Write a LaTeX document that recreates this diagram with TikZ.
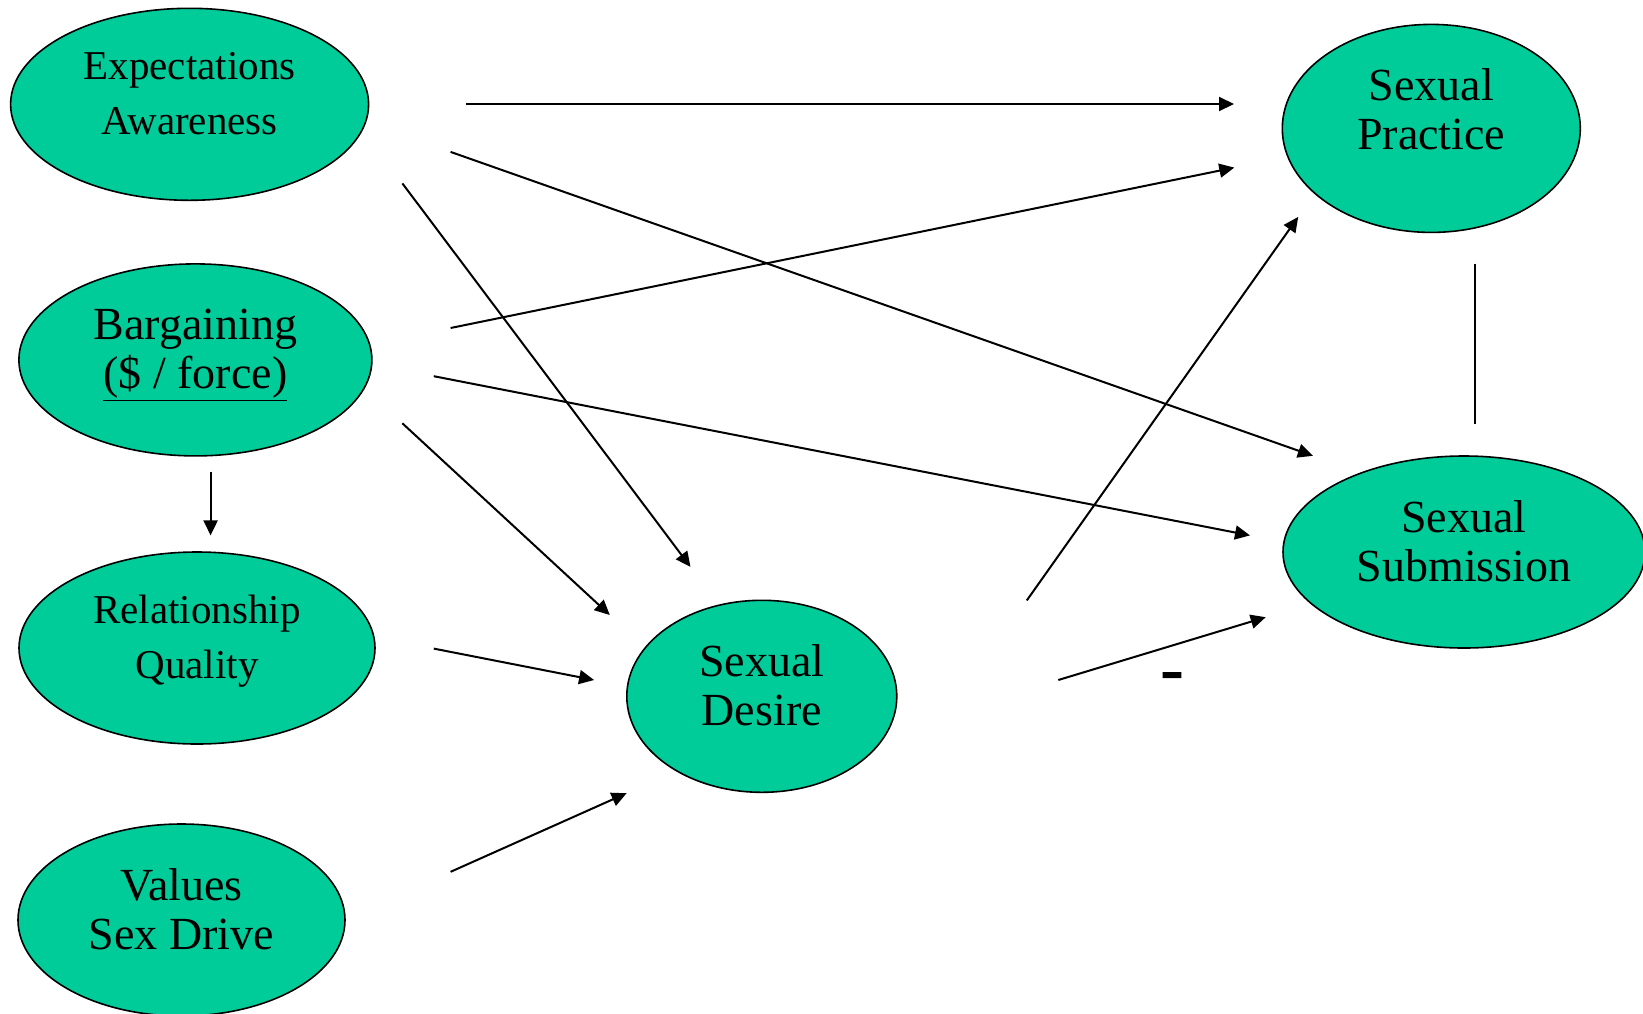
\documentclass[tikz,border=0pt]{standalone}
\usepackage{fontspec}
\setmainfont{Liberation Serif}
\usetikzlibrary{shapes.geometric,arrows.meta}
\definecolor{ovalgreen}{RGB}{0,204,153}
\tikzset{
  oval/.style={ellipse, draw=black, line width=1.6pt, fill=ovalgreen, inner sep=0pt},
  bigtxt/.style={align=center, font=\fontsize{46}{49}\selectfont},
  smalltxt/.style={align=center, font=\fontsize{41}{55}\selectfont},
  conn/.style={line width=2pt, -{Triangle[length=15pt,width=14pt]}},
  plain/.style={line width=2pt}
}
\begin{document}
\begin{tikzpicture}[x=1pt,y=-1pt]
\useasboundingbox (0,0) rectangle (1643,1013);
% ovals
\node[oval, minimum width=358pt, minimum height=192pt] (exp) at (189.6,104.3) {};
\node[oval, minimum width=353pt, minimum height=192pt] (barg) at (195.4,359.9) {};
\node[oval, minimum width=356pt, minimum height=192pt] (rel) at (197,648) {};
\node[oval, minimum width=327pt, minimum height=192pt] (val) at (181.5,920) {};
\node[oval, minimum width=270pt, minimum height=192pt] (des) at (761.8,696.3) {};
\node[oval, minimum width=298pt, minimum height=208pt] (prac) at (1431.3,128.4) {};
\node[oval, minimum width=362pt, minimum height=192pt] (sub) at (1464,552) {};
% texts
\node[smalltxt] (expt) at (189.6,94) {Expectations\\Awareness};
\node[bigtxt] (bargt) at (195.4,355) {Bargaining\\\underline{(\$ / force)}};
\node[smalltxt] (relt) at (197,641) {Relationship\\Quality};
\node[bigtxt] (valt) at (181.5,909.5) {Values\\Sex Drive};
\node[bigtxt] (dest) at (761.8,685) {Sexual\\Desire};
\node[bigtxt] (pract) at (1431.3,109.5) {Sexual\\Practice};
\node[bigtxt] (subt) at (1464,541) {Sexual\\Submission};
% connector end points
\coordinate (a1s) at (466,104);    \coordinate (a1e) at (1234,104);
\coordinate (a2s) at (450.6,151.9); \coordinate (a2e) at (1312.9,455.8);
\coordinate (a3s) at (402.4,183.4); \coordinate (a3e) at (690.5,566.9);
\coordinate (a4s) at (450.6,328);   \coordinate (a4e) at (1234.3,167.6);
\coordinate (a5s) at (433.8,376.2); \coordinate (a5e) at (1250,535.4);
\coordinate (a6s) at (402.4,423.3); \coordinate (a6e) at (609.8,615);
\coordinate (a7s) at (210.6,471.5); \coordinate (a7e) at (210.6,535.4);
\coordinate (a8s) at (433.8,648.6); \coordinate (a8e) at (594.1,680);
\coordinate (a9s) at (450.6,871.8); \coordinate (a9e) at (626.6,793.2);
\coordinate (a10s) at (1026.8,600.4); \coordinate (a10e) at (1298.2,216.9);
\coordinate (a11s) at (1058.3,680); \coordinate (a11e) at (1265.7,617.2);
\coordinate (ls) at (1475.3,263.5); \coordinate (le) at (1475.3,424.4);
% connectors
\draw[conn] (a1s) -- (a1e);
\draw[conn] (a2s) -- (a2e);
\draw[conn] (a3s) -- (a3e);
\draw[conn] (a4s) -- (a4e);
\draw[conn] (a5s) -- (a5e);
\draw[conn] (a6s) -- (a6e);
\draw[conn] (a7s) -- (a7e);
\draw[conn] (a8s) -- (a8e);
\draw[conn] (a9s) -- (a9e);
\draw[conn] (a10s) -- (a10e);
\draw[conn] (a11s) -- (a11e);
\draw[plain] (ls) -- (le);
% minus label
\node[inner sep=0pt, font=\fontsize{72}{72}\selectfont\bfseries] (minus) at (1172,682.5) {-};
\end{tikzpicture}
\end{document}
